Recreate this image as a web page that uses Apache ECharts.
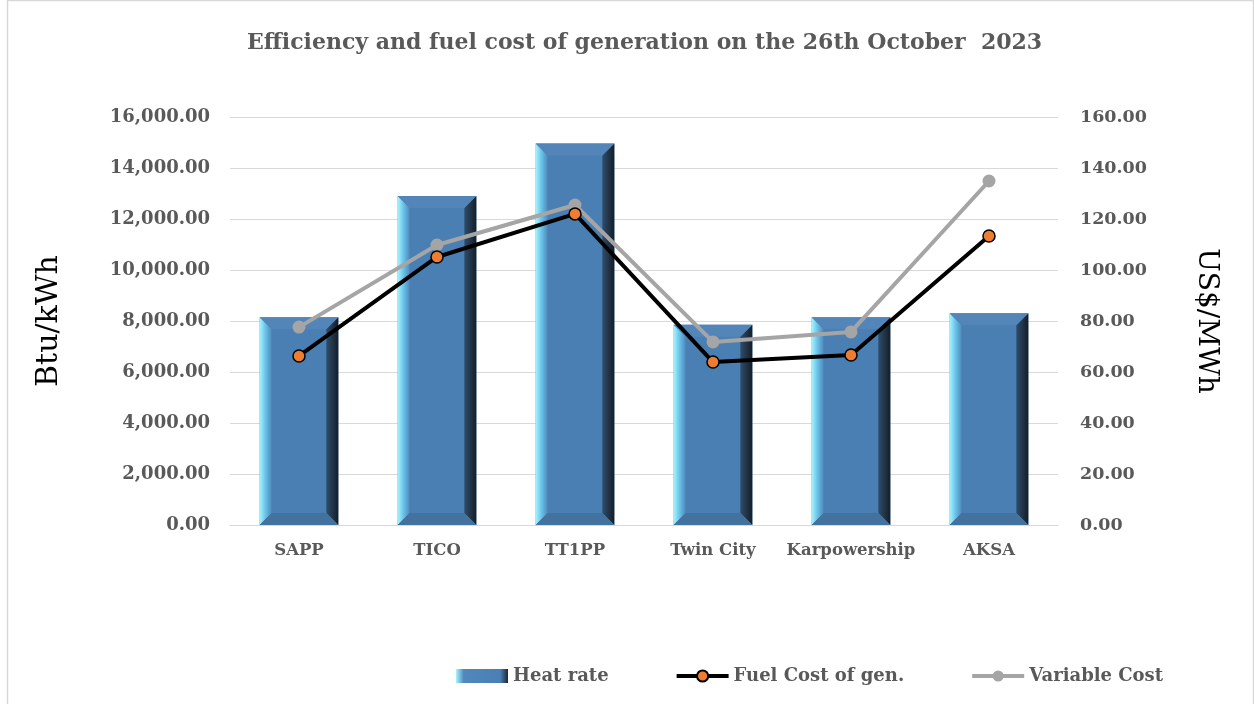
<!DOCTYPE html>
<html>
<head>
<meta charset="utf-8">
<script src="https://cdn.jsdelivr.net/npm/echarts@6/dist/echarts.min.js"></script>
<style>
html,body{margin:0;padding:0;background:#fff;}
#main{width:1254px;height:704px;}
</style>
</head>
<body>
<div id="main"></div>
<script>
// data
var stations = ['SAPP', 'TICO', 'TT1PP', 'Twin City', 'Karpowership', 'AKSA'];
var heatRate = [8150, 12900, 14960, 7850, 8150, 8300];
var fuelCost = [66.3, 105.1, 122.0, 63.9, 66.7, 113.3];
var variableCost = [77.6, 109.8, 125.5, 71.8, 75.7, 134.9];
var leftTicks = { min: 0, max: 16000, interval: 2000 };
var rightTicks = { min: 0, max: 160, interval: 20 };

var FONT = '"DejaVu Serif", "Liberation Serif", serif';
var GREY = '#595959';

var chart = echarts.init(document.getElementById('main'));

function fmt(v) {
	return v.toLocaleString('en-US', { minimumFractionDigits: 2, maximumFractionDigits: 2 });
}

// bevelled bar, drawn from the axis coords
function renderBar(params, api) {
	var top = api.coord([api.value(0), api.value(1)]);
	var base = api.coord([api.value(0), 0]);
	var w = api.size([1, 0])[0] * 0.57;
	var x0 = top[0] - w / 2, x1 = top[0] + w / 2;
	var y0 = top[1], y1 = base[1];
	var b = 12;
	return {
		type: 'group',
		children: [
			{ type: 'rect', shape: { x: x0, y: y0, width: w, height: y1 - y0 }, style: { fill: '#4a7fb3' } },
			// left
			{ type: 'polygon', shape: { points: [[x0, y0], [x0 + b, y0 + b], [x0 + b, y1 - b], [x0, y1]] },
			  style: { fill: new echarts.graphic.LinearGradient(0, 0, 1, 0, [{ offset: 0, color: '#a6f4ff' }, { offset: 0.45, color: '#6cc6ea' }, { offset: 1, color: '#4f88bd' }]) } },
			// right
			{ type: 'polygon', shape: { points: [[x1, y0], [x1 - b, y0 + b], [x1 - b, y1 - b], [x1, y1]] },
			  style: { fill: new echarts.graphic.LinearGradient(0, 0, 1, 0, [{ offset: 0, color: '#2f4d6b' }, { offset: 1, color: '#141d28' }]) } },
			// top
			{ type: 'polygon', shape: { points: [[x0, y0], [x1, y0], [x1 - b, y0 + b], [x0 + b, y0 + b]] },
			  style: { fill: '#5385b8' } },
			// bottom
			{ type: 'polygon', shape: { points: [[x0, y1], [x1, y1], [x1 - b, y1 - b], [x0 + b, y1 - b]] },
			  style: { fill: '#43729f' } }
		]
	};
}

var option = {
	backgroundColor: '#ffffff',
	animation: false,
	title: {
		text: 'Efficiency and fuel cost of generation on the 26th October  2023',
		left: 242,
		top: 27,
		textStyle: { fontFamily: FONT, fontSize: 22, fontWeight: 'bold', color: GREY }
	},
	legend: {
		bottom: 14,
		left: 451,
		itemGap: 66,
		itemWidth: 52,
		itemHeight: 14,
		textStyle: { fontFamily: FONT, fontSize: 18, fontWeight: 'bold', color: GREY },
		data: [
			{ name: 'Heat rate', icon: 'rect', itemStyle: { color: new echarts.graphic.LinearGradient(0, 0, 1, 0, [{ offset: 0, color: '#a6f4ff' }, { offset: 0.15, color: '#4f88bd' }, { offset: 0.85, color: '#4a7fb3' }, { offset: 1, color: '#1a2636' }]) } },
			{ name: 'Fuel Cost of gen.', lineStyle: { width: 4 } },
			{ name: 'Variable Cost', lineStyle: { width: 4 } }
		]
	},
	grid: { left: 230, right: 196, top: 117, bottom: 179 },
	xAxis: {
		type: 'category',
		data: stations,
		axisLine: { lineStyle: { color: '#d9d9d9' } },
		axisTick: { show: false },
		axisLabel: { interval: 0, fontFamily: FONT, fontSize: 16.5, fontWeight: 'bold', color: GREY, margin: 17 }
	},
	yAxis: [
		{
			type: 'value',
			min: leftTicks.min, max: leftTicks.max, interval: leftTicks.interval,
			name: 'Btu/kWh',
			nameLocation: 'middle',
			nameGap: 166,
			nameTextStyle: { fontFamily: FONT, fontSize: 30, color: '#000' },
			axisLabel: { formatter: fmt, fontFamily: FONT, fontSize: 18, fontWeight: 'bold', color: GREY, margin: 20 },
			splitLine: { lineStyle: { color: '#d9d9d9', width: 1 } },
			axisLine: { show: false },
			axisTick: { show: false }
		},
		{
			type: 'value',
			min: rightTicks.min, max: rightTicks.max, interval: rightTicks.interval,
			name: 'US$/MWh',
			nameLocation: 'middle',
			nameGap: 134,
			nameRotate: -90,
			nameTextStyle: { fontFamily: FONT, fontSize: 28, color: '#000' },
			axisLabel: { formatter: fmt, fontFamily: FONT, fontSize: 17.5, fontWeight: 'bold', color: GREY, margin: 22 },
			splitLine: { show: false },
			axisLine: { show: false },
			axisTick: { show: false }
		}
	],
	series: [
		{
			name: 'Heat rate',
			type: 'custom',
			renderItem: renderBar,
			itemStyle: { color: '#4a7fb3' },
			encode: { x: 0, y: 1 },
			data: heatRate.map(function (v, i) { return [i, v]; }),
			z: 1
		},
		{
			name: 'Fuel Cost of gen.',
			type: 'line',
			yAxisIndex: 1,
			data: fuelCost,
			symbol: 'circle',
			symbolSize: 12,
			lineStyle: { color: '#000', width: 4 },
			itemStyle: { color: '#ed7d31', borderColor: '#000', borderWidth: 1.5 },
			z: 4
		},
		{
			name: 'Variable Cost',
			type: 'line',
			yAxisIndex: 1,
			data: variableCost,
			symbol: 'circle',
			symbolSize: 13,
			lineStyle: { color: '#a5a5a5', width: 4 },
			itemStyle: { color: '#a5a5a5' },
			z: 3
		}
	],
	graphic: [
		{ type: 'rect', left: 5, top: -2, shape: { width: 1246, height: 710 }, style: { fill: 'none', stroke: '#d9d9d9', lineWidth: 1.5 }, silent: true }
	]
};

chart.setOption(option);
</script>
</body>
</html>
